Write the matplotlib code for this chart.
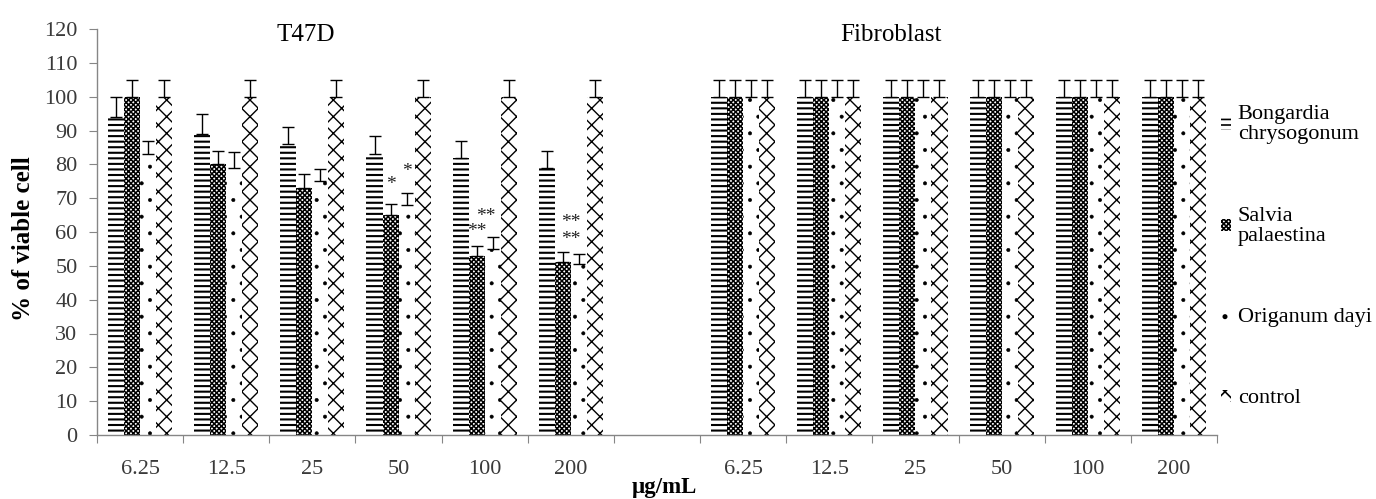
import matplotlib
matplotlib.use("Agg")
import matplotlib.pyplot as plt
import numpy as np

# ---------------- data ----------------
concentrations = ["6.25", "12.5", "25", "50", "100", "200"]
panels = ["T47D", "Fibroblast"]
series_names = ["Bongardia\nchrysogonum", "Salvia\npalaestina", "Origanum dayi", "control"]

# T47D
bong_t47d = [94, 89, 86, 83, 82, 79]
bong_t47d_err = [6, 6, 5, 5.5, 5, 5]
salv_t47d = [100, 80, 73, 65, 53, 51]
salv_t47d_err = [5, 4, 4, 3.3, 3, 3]
orig_t47d = [83, 79, 75, 68, 55, 50.5]
orig_t47d_err = [4, 4.5, 3.5, 3.5, 3.5, 3]
ctrl_t47d = [100, 100, 100, 100, 100, 100]
ctrl_t47d_err = [5, 5, 5, 5, 5, 5]

# Fibroblast
bong_fib = [100, 100, 100, 100, 100, 100]
bong_fib_err = [5, 5, 5, 5, 5, 5]
salv_fib = [100, 100, 100, 100, 100, 100]
salv_fib_err = [5, 5, 5, 5, 5, 5]
orig_fib = [100, 100, 100, 100, 100, 100]
orig_fib_err = [5, 5, 5, 5, 5, 5]
ctrl_fib = [100, 100, 100, 100, 100, 100]
ctrl_fib_err = [5, 5, 5, 5, 5, 5]

# significance marks (T47D): concentration index, series index (between), label, y value
sig_conc = [3, 3, 4, 4, 5, 5]
sig_series = [1.0, 2.0, 1.0, 1.6, 1.5, 1.5]
sig_label = ["*", "*", "**", "**", "**", "**"]
sig_y = [73.9, 77.8, 60.1, 64.7, 57.9, 62.8]

# ---------------- style ----------------
plt.rcParams["font.family"] = ["Liberation Serif", "DejaVu Serif"]
plt.rcParams["hatch.linewidth"] = 1.2
hatches = ["---", "xxxxxxx", ".", "xx"]
hatch_lw = [1.5, 1.1, 0.4, 1.0]
grey = "#868686"
txt = "#3a3a3a"

W, H = 1376, 499
fig = plt.figure(figsize=(W / 100, H / 100), dpi=100)
ax = fig.add_axes([97 / W, 1 - 435 / H, (1217 - 97) / W, (435 - 29) / H])

n = len(concentrations)
pos_t47d = np.arange(n)
pos_fib = np.arange(n) + n + 1
pos_all = np.concatenate([pos_t47d, pos_fib])

vals = [bong_t47d + bong_fib, salv_t47d + salv_fib, orig_t47d + orig_fib, ctrl_t47d + ctrl_fib]
errs = [bong_t47d_err + bong_fib_err, salv_t47d_err + salv_fib_err,
        orig_t47d_err + orig_fib_err, ctrl_t47d_err + ctrl_fib_err]

bw = 0.186
handles = []
for i in range(4):
    xs = pos_all + (i - 1.5) * bw
    b = ax.bar(xs, vals[i], width=bw, color="white", edgecolor="black",
               linewidth=0, hatch=hatches[i], label=series_names[i], zorder=2)
    for p in b.patches:
        if hasattr(p, "set_hatch_linewidth"):
            p.set_hatch_linewidth(hatch_lw[i])
    handles.append(b)
    e = np.array(errs[i])
    ax.errorbar(xs, vals[i], yerr=[np.zeros_like(e), e], fmt="none",
                ecolor="black", elinewidth=1.0, capsize=4.5, capthick=1.0, zorder=3)

for c, s, lab, yv in zip(sig_conc, sig_series, sig_label, sig_y):
    ax.text(pos_t47d[c] + (s - 1.5) * bw, yv, lab, ha="center", va="center",
            fontsize=14, color="#222222", zorder=4)

ax.set_xlim(-0.5, 2 * n + 0.5)
ax.set_ylim(0, 120)
ax.set_yticks(np.arange(0, 121, 10))
ax.set_xticks(np.arange(-0.5, 2 * n + 1, 1.0))
ax.set_xticklabels([])
ax.set_xticks(pos_all, minor=True)
ax.set_xticklabels(concentrations + concentrations, minor=True)
ax.tick_params(axis="x", which="minor", length=0, pad=18, labelsize=16, labelcolor=txt)
ax.tick_params(axis="x", which="major", length=6, color=grey, direction="out")
ax.tick_params(axis="y", length=6, color=grey, direction="out", labelsize=16,
               labelcolor=txt, pad=8)
for sp in ["top", "right"]:
    ax.spines[sp].set_visible(False)
for sp in ["left", "bottom"]:
    ax.spines[sp].set_color(grey)
    ax.spines[sp].set_linewidth(1.0)

fig.text(306 / W, 1 - 35 / H, panels[0], ha="center", va="center", fontsize=18)
fig.text(891 / W, 1 - 35 / H, panels[1], ha="center", va="center", fontsize=18)

fig.text(24 / W, 1 - 239 / H, "% of viable cell", rotation=90, ha="center", va="center",
         fontsize=18, fontweight="bold")
fig.text(664 / W, 1 - 488 / H, "µg/mL", ha="center", va="center",
         fontsize=16.5, fontweight="bold")

leg = ax.legend(handles=handles, loc="upper left", bbox_to_anchor=(1221 / W, 1 - 105 / H),
                bbox_transform=fig.transFigure, frameon=False, fontsize=16,
                handlelength=0.45, handleheight=0.45, handletextpad=0.3,
                labelspacing=2.8, borderaxespad=0, borderpad=0)
for t in leg.get_texts():
    t.set_linespacing(1.1)

fig.savefig("out.png", dpi=100)
